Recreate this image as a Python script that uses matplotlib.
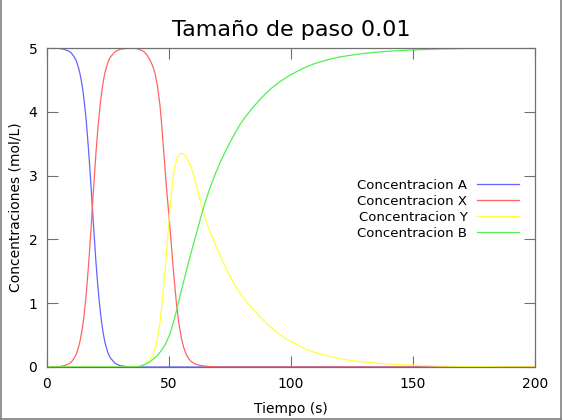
import matplotlib
matplotlib.use("Agg")
import matplotlib.pyplot as plt
from matplotlib.lines import Line2D

# ── Data (time in s, concentration in mol/L) ──
t_a = [0, 4, 7, 9, 10, 11, 12, 13, 13.5, 14, 14.5, 15, 15.5, 16, 16.5, 17,
       17.5, 18, 18.5, 19, 19.5, 20, 20.5, 21, 21.5, 22, 22.5, 23, 23.5, 24,
       25, 26, 28, 30, 33, 37, 200]
conc_a = [5, 5, 4.98, 4.95, 4.92, 4.87, 4.80, 4.68, 4.60, 4.50, 4.39, 4.25,
          4.08, 3.90, 3.66, 3.42, 3.15, 2.86, 2.56, 2.26, 1.97, 1.68, 1.43,
          1.20, 1.00, 0.82, 0.67, 0.54, 0.435, 0.35, 0.22, 0.14, 0.055, 0.02,
          0.005, 0, 0]

t_x = [0, 4, 7, 9, 10, 11, 12, 13, 13.5, 14, 14.5, 15, 15.5, 16, 16.5, 17,
       17.5, 18, 18.5, 19, 19.5, 20, 20.5, 21, 21.5, 22, 22.5, 23, 23.5, 24,
       25, 26, 28, 30, 33, 35, 37, 39.5, 41, 42.5, 43.5, 44.3, 45.3, 46.3,
       47, 47.7, 48.4, 49, 49.6, 50.1, 51, 51.8, 52.5, 53.1, 53.7, 54.4,
       55.2, 56, 56.9, 57.9, 59, 60.5, 62.7, 66, 70, 75, 200]
conc_x = [0, 0, 0.02, 0.05, 0.08, 0.13, 0.20, 0.32, 0.40, 0.50, 0.61, 0.75,
          0.92, 1.10, 1.34, 1.58, 1.85, 2.14, 2.44, 2.74, 3.03, 3.32, 3.57,
          3.80, 4.00, 4.18, 4.33, 4.46, 4.565, 4.65, 4.78, 4.86, 4.945, 4.98,
          4.995, 5.0, 4.99, 4.95, 4.89, 4.79, 4.70, 4.60, 4.40, 4.10, 3.80,
          3.45, 3.10, 2.80, 2.54, 2.32, 1.90, 1.52, 1.22, 0.98, 0.78, 0.60,
          0.43, 0.31, 0.21, 0.14, 0.09, 0.05, 0.025, 0.008, 0.002, 0, 0]

t_y = [0, 34, 37, 39.5, 41, 42.5, 43.6, 44.4, 45.2, 46.3, 47.3, 48.4, 49.4,
       50.4, 51.2, 51.9, 52.5, 53.2, 53.8, 54.5, 55.2, 55.9, 56.5, 57.5, 58.6,
       59.8, 61, 62.2, 63.4, 64.6, 65.8, 67, 68.2, 69.8, 71.5, 73.2, 75, 78,
       81.8, 85, 88.7, 92, 95, 98.5, 102.3, 106, 110, 116, 120, 125, 130,
       135, 142, 150, 160, 170, 185, 200]
conc_y = [0, 0, 0.01, 0.03, 0.065, 0.13, 0.21, 0.30, 0.44, 0.69, 1.05, 1.50,
          2.00, 2.49, 2.80, 3.02, 3.16, 3.26, 3.31, 3.34, 3.35, 3.34, 3.32,
          3.26, 3.18, 3.04, 2.88, 2.70, 2.52, 2.36, 2.22, 2.10, 1.99, 1.84,
          1.70, 1.56, 1.42, 1.22, 1.02, 0.88, 0.73, 0.61, 0.52, 0.43, 0.35,
          0.28, 0.225, 0.165, 0.13, 0.10, 0.08, 0.062, 0.042, 0.028, 0.016,
          0.009, 0.004, 0.002]

t_b = [0, 36, 38, 39.5, 41, 42.5, 44, 45.2, 46.3, 47.4, 48.4, 49.4, 50.4,
       51.2, 51.8, 53.1, 54.1, 55.2, 56.2, 57.2, 58.2, 59.2, 60.2, 61.3, 62.7,
       64.1, 65.5, 67, 68.8, 70.9, 73, 75, 77, 79.1, 81.5, 84, 86.5, 88.7,
       92, 95, 98.5, 102.3, 106, 110, 116, 120, 125, 130, 135, 142, 150, 160,
       170, 185, 200]
conc_b = [0, 0, 0.01, 0.03, 0.055, 0.09, 0.14, 0.18, 0.23, 0.29, 0.35, 0.43,
          0.52, 0.62, 0.70, 0.89, 1.05, 1.22, 1.37, 1.52, 1.67, 1.81, 1.95,
          2.10, 2.30, 2.49, 2.66, 2.83, 3.01, 3.20, 3.37, 3.52, 3.66, 3.80,
          3.93, 4.05, 4.16, 4.25, 4.37, 4.46, 4.55, 4.63, 4.70, 4.76, 4.825,
          4.86, 4.89, 4.915, 4.935, 4.955, 4.97, 4.983, 4.991, 4.996, 4.998]

labels = ["Concentracion A", "Concentracion X",
          "Concentracion Y", "Concentracion B"]
colors = ["#6464ff", "#ff6464", "#ffff3c", "#50f050"]

x_ticks = [0, 50, 100, 150, 200]
y_ticks = [0, 1, 2, 3, 4, 5]

fig = plt.figure(figsize=(5.62, 4.2), dpi=100)
ax = fig.add_axes([0.0836, 0.1262, 0.8684, 0.7595])

series = [(t_a, conc_a), (t_x, conc_x), (t_y, conc_y), (t_b, conc_b)]
for (tt, cc), lab, col in zip(series, labels, colors):
    ax.plot(tt, cc, color=col, linewidth=0.9, label=lab)

ax.set_xlim(0, 200)
ax.set_ylim(0, 5)
ax.set_xticks(x_ticks)
ax.set_yticks(y_ticks)
ax.tick_params(direction="in", length=8, width=0.8, color="#707070",
               top=True, right=True, labelsize=10, pad=7)
for sp in ax.spines.values():
    sp.set_color("#707070")
    sp.set_linewidth(0.9)

ax.set_xlabel("Tiempo (s)", fontsize=10, labelpad=8)
ax.set_ylabel("Concentraciones (mol/L)", fontsize=10, labelpad=4)
ax.set_title("Tamaño de paso 0.01", fontsize=16, pad=9)

ax.legend(loc="upper right", bbox_to_anchor=(0.967, 0.59), frameon=False,
          markerfirst=False, fontsize=9.5, handlelength=3.2,
          handletextpad=0.7, labelspacing=0.22, borderpad=0,
          borderaxespad=0)

# thin window border on left, right and bottom
for xs, ys in [([0.001, 0.001], [0, 1]), ([0.999, 0.999], [0, 1]),
               ([0, 1], [0.003, 0.003])]:
    fig.add_artist(Line2D(xs, ys, transform=fig.transFigure,
                          color="#808080", linewidth=1.2))

fig.savefig("out.png", dpi=100)
